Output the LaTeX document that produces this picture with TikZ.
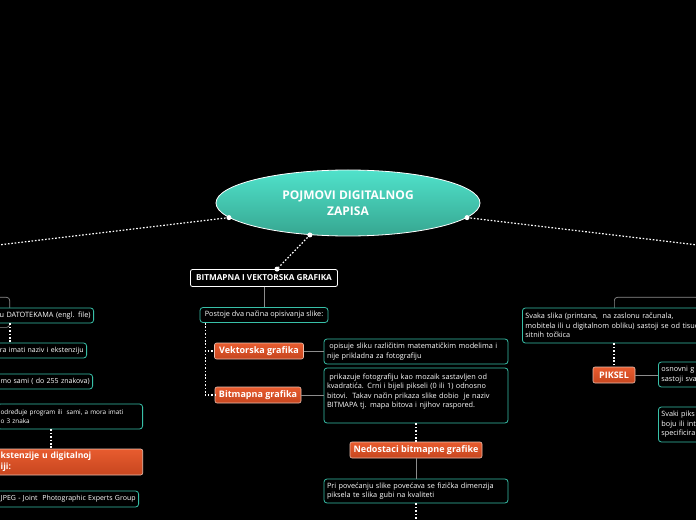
\documentclass[tikz,border=0pt]{standalone}
\usepackage{fontspec}
\setmainfont{Open Sans}
\usepackage{tikz}
\usetikzlibrary{shapes.geometric}
\definecolor{tealline}{HTML}{38C0A8}
\definecolor{ellipsetop}{HTML}{50E2CB}
\definecolor{ellipsebot}{HTML}{36A690}
\definecolor{orangetop}{HTML}{E85C2F}
\definecolor{orangebot}{HTML}{C7461F}
\definecolor{orangeline}{HTML}{EBC0B0}
\definecolor{branchgray}{HTML}{8C8C8C}

\begin{document}
\begin{tikzpicture}[x=1pt,y=1pt,
		leaf/.style={draw=tealline, line width=0.8pt, fill=black, rounded corners=3pt, text=white,
			font=\fontsize{7.3}{9.6}\selectfont, inner xsep=3pt, inner ysep=1pt, align=left},
		topic/.style={draw=orangeline, line width=0.6pt, top color=orangetop, bottom color=orangebot,
			rounded corners=2pt, text=white, font=\fontsize{9}{11}\bfseries\selectfont, inner sep=0pt},
		branch/.style={draw=branchgray, line width=0.7pt, fill=black, rounded corners=3pt, inner sep=0pt},
		dotline/.style={draw=white, line width=1.2pt, dash pattern=on 1.6pt off 1.8pt},
		grayline/.style={draw=branchgray, line width=0.8pt},
		dot/.style={circle, fill=white, inner sep=0pt, minimum size=5pt}]
	\useasboundingbox (0,0) rectangle (696,520);
	\fill[black] (0,0) rectangle (696,520);

	% central topic
	\node[ellipse, draw=white, line width=0.8pt, top color=ellipsetop, bottom color=ellipsebot,
		minimum width=264, minimum height=66, inner sep=0pt, text=white, align=center,
		font=\fontsize{12}{16}\bfseries\selectfont] (root) at (348,317) {POJMOVI DIGITALNOG\\ZAPISA};

	% middle branch
	\node[draw=white, line width=0.8pt, fill=black, rounded corners=2pt, text=white, inner sep=0pt,
		minimum width=147, minimum height=17, font=\fontsize{8.2}{10}\bfseries\selectfont] (bv) at (264,242) {BITMAPNA I VEKTORSKA GRAFIKA};
	\node[leaf, minimum width=128, minimum height=15] (postoje) at (264,205) {Postoje dva načina opisivanja slike:};
	\node[topic, minimum width=89, minimum height=16] (vekt) at (259,169) {Vektorska grafika};
	\node[topic, minimum width=86, minimum height=16] (bitmap) at (258,125) {Bitmapna grafika};
	\node[leaf, text width=178, minimum height=25] (opis) at (416,168.5) {\ opisuje sliku različitim matematičkim modelima i\\nije prikladna za fotografiju};
	\node[leaf, text width=178, minimum height=55] (prik) at (416,124.5) {\ prikazuje fotografiju kao mozaik sastavljen od\\kvadratića. Crni i bijeli pikseli (0 ili 1) odnosno\\bitovi.\ \ Takav način prikaza slike dobio\ \ je naziv\\BITMAPA tj. mapa bitova i njihov raspored.\\\mbox{}};
	\node[topic, minimum width=132, minimum height=16] (nedo) at (416,70) {Nedostaci bitmapne grafike};
	\node[leaf, text width=178, minimum height=24] (pri) at (416,29) {Pri povećanju slike povećava se fizička dimenzija\\piksela te slika gubi na kvaliteti};
	\coordinate (priend) at (416,-5);

	% left branch
	\node[branch, minimum width=60, minimum height=30, anchor=north east] (lbranch) at (10,223) {};
	\node[leaf, text width=150, minimum height=15, anchor=east, align=right] (datoteke) at (94,204.5) {u DATOTEKAMA (engl. file)};
	\node[leaf, text width=150, minimum height=15, anchor=east, align=right,
		font=\fontsize{7}{9}\selectfont] (naziv) at (87,169.5) {ra imati naziv i ekstenziju};
	\node[leaf, text width=150, minimum height=15, anchor=east, align=right,
		font=\fontsize{7}{9}\selectfont] (znakovi) at (93,138.5) {mo sami ( do 255 znakova)};
	\node[leaf, text width=139, minimum height=25, anchor=east,
		font=\fontsize{6.4}{9.6}\selectfont] (program) at (143,103.5) {određuje program ili\ \ sami, a mora imati\\o 3 znaka};
	\node[topic, text width=138, inner xsep=4pt, minimum height=26, anchor=east, align=left,
		font=\fontsize{8.6}{11}\bfseries\selectfont] (ext) at (143,58) {kstenzije u digitalnoj\\iji:};
	\node[leaf, text width=150, minimum height=16, anchor=east, align=right,
		font=\fontsize{7}{9}\selectfont] (jpeg) at (139,21) {JPEG - Joint\ \ Photographic Experts Group};
	\coordinate (lx) at (10,0);
	\coordinate (px) at (51,0);
	\coordinate (lend) at (-10,274);

	% right branch
	\node[branch, minimum width=120, minimum height=30, anchor=north west] (rbranch) at (614,223) {};
	\node[leaf, text width=200, minimum height=35, anchor=west] (svaka) at (522,194.5) {Svaka slika (printana,\ \ na zaslonu računala,\\mobitela ili u digitalnom obliku) sastoji se od tisuć\\sitnih točkica};
	\node[topic, minimum width=42, minimum height=16] (piksel) at (614,145) {PIKSEL};
	\node[leaf, text width=80, minimum height=25, anchor=west] (osnovni) at (658,145.5) {osnovni g\\sastoji sva};
	\node[leaf, text width=80, minimum height=35, anchor=west] (svaki) at (658,95.5) {Svaki piks\\boju ili int\\specificira};
	\coordinate (rend) at (706,274);

	% connectors
	\draw[dotline] (root.187) -- (lend);
	\draw[dotline] (root.353) -- (rend);
	\node[dot] (bvdot) at ([xshift=13pt]bv.north) {};
	\draw[dotline] (root.220) -- (bvdot);
	\node[dot] at (root.187) {};
	\node[dot] at (root.220) {};
	\node[dot] at (root.353) {};

	\draw[grayline] (bv.south) -- (postoje.north);
	\draw[dotline] ([xshift=5.5pt]postoje.south west) |- (vekt.west);
	\draw[dotline] ([xshift=5.5pt]postoje.south west) |- (bitmap.west);
	\draw[grayline] (vekt.east) -- (vekt.east -| opis.west);
	\draw[grayline] (bitmap.east) -- (bitmap.east -| prik.west);
	\draw[dotline] (prik.south) -- (nedo.north);
	\draw[grayline] (nedo.south) -- (pri.north);
	\draw[dotline] (pri.south) -- (priend);

	\draw[dotline] (datoteke.south -| lx) -- (naziv.north -| lx);
	\draw[dotline] (program.south -| px) -- (ext.north -| px);

	\draw[dotline] (svaka.south -| piksel.north) -- (piksel.north);
	\draw[grayline] (piksel.east) -- (piksel.east -| osnovni.west);
\end{tikzpicture}
\end{document}
